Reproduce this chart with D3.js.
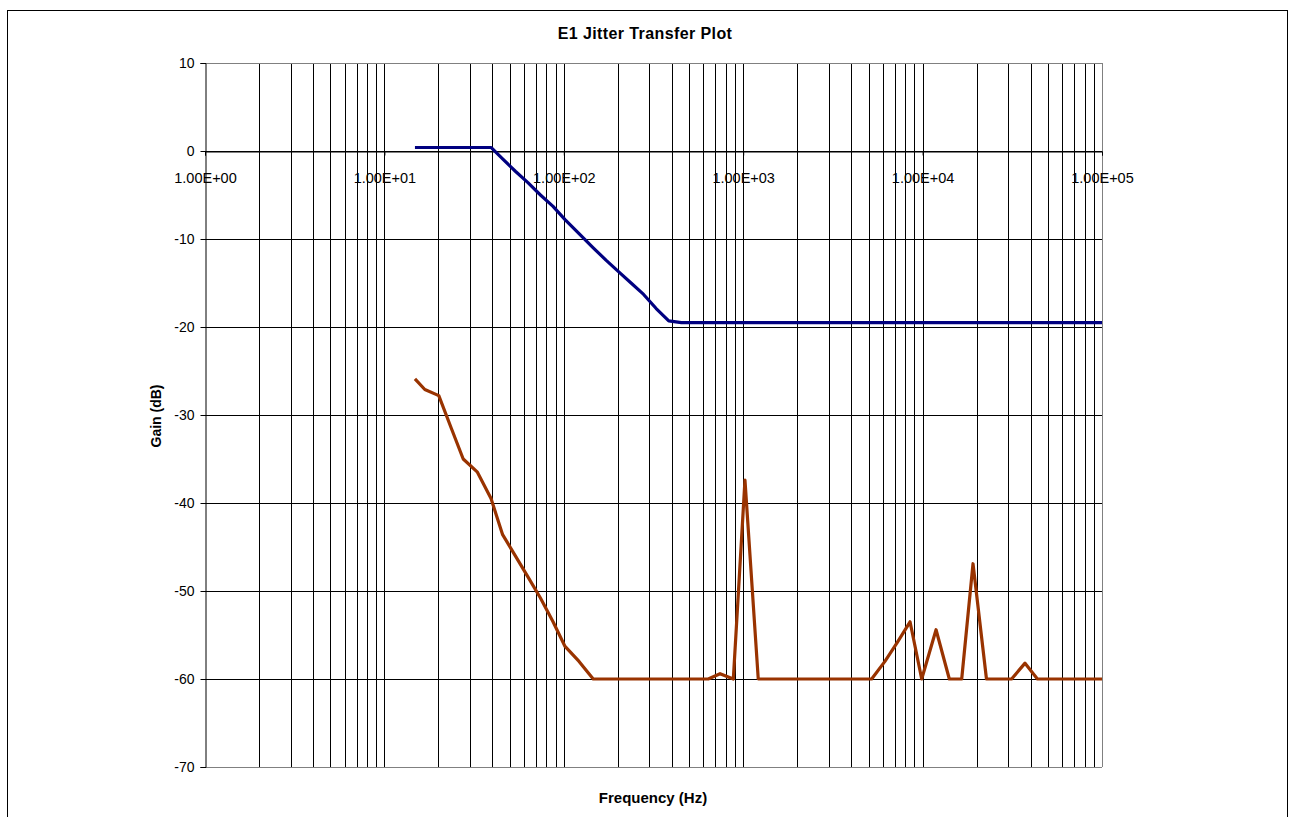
<!DOCTYPE html>
<html>
<head>
<meta charset="utf-8">
<script src="https://cdn.jsdelivr.net/npm/d3@7"></script>
<style>
  body { margin: 0; background: #fff; }
  svg { display: block; font-family: "Liberation Sans", Arial, sans-serif; }
</style>
</head>
<body>
<svg id="chart" width="1291" height="817"></svg>
<script>
// frequencies (Hz) of the measurement points
var freqs = [14.8, 16.8, 20.1, 23.6, 27.5, 33, 39.3, 45.6, 53.7, 63.1, 74.1, 87.1, 101.6, 121.6, 145.9,
  171.8, 201.8, 237.1, 278.6, 327.3, 384.6, 451.9, 543.3, 638.3, 743, 881, 1023, 1213, 1426, 1675,
  1968, 2317, 2723, 3199, 3758, 4426, 5200, 6166, 7244, 8511, 9886, 11885, 14093, 16520, 19099,
  22699, 26669, 31333, 37239, 43652, 51523, 60814, 71779, 84723, 100000];

// upper trace (dB)
var gainTop = [0.4, 0.4, 0.4, 0.4, 0.4, 0.4, 0.4, -0.9, -2.3, -3.6, -5.0, -6.3, -7.8, -9.4, -11.0,
  -12.4, -13.7, -15.0, -16.3, -17.9, -19.3, -19.5, -19.5, -19.5, -19.5, -19.5, -19.5, -19.5, -19.5, -19.5,
  -19.5, -19.5, -19.5, -19.5, -19.5, -19.5, -19.5, -19.5, -19.5, -19.5, -19.5, -19.5, -19.5, -19.5, -19.5,
  -19.5, -19.5, -19.5, -19.5, -19.5, -19.5, -19.5, -19.5, -19.5, -19.5];

// lower trace (dB)
var gainBottom = [-25.9, -27.1, -27.8, -31.5, -35.0, -36.5, -39.5, -43.6, -46.0, -48.4, -50.8, -53.5, -56.3, -58.0, -60,
  -60, -60, -60, -60, -60, -60, -60, -60, -60, -59.4, -60, -37.4, -60, -60, -60,
  -60, -60, -60, -60, -60, -60, -60, -58.0, -55.8, -53.5, -60, -54.4, -60, -60, -46.9,
  -60, -60, -60, -58.2, -60, -60, -60, -60, -60, -60];

var yTicks = [10, 0, -10, -20, -30, -40, -50, -60, -70];
var xDecades = [1, 10, 100, 1000, 10000, 100000];

var svg = d3.select("#chart");
var plotLeft = 205, plotRight = 1102, plotTop = 63, plotBottom = 767;

var x = d3.scaleLog().domain([1, 100000]).range([plotLeft, plotRight]);
var y = d3.scaleLinear().domain([-70, 10]).range([plotBottom, plotTop]);

// outer frame
svg.append("rect").attr("x", 7.5).attr("y", 10.5).attr("width", 1280).attr("height", 820)
  .attr("fill", "none").attr("stroke", "#000").attr("stroke-width", 1);

// minor/major vertical grid
var gridX = [];
xDecades.slice(0, -1).forEach(function(d){
  for (var k = 1; k <= 9; k++) gridX.push(d * k);
});
gridX.push(100000);

svg.append("g").selectAll("line").data(gridX.filter(function(d){ return d > 1; })).enter().append("line")
  .attr("x1", function(d){ return Math.round(x(d)) + 0.5; })
  .attr("x2", function(d){ return Math.round(x(d)) + 0.5; })
  .attr("y1", plotTop).attr("y2", plotBottom)
  .attr("stroke", function(d){ return d === 100000 ? "#808080" : "#000"; })
  .attr("stroke-width", 1);

// horizontal grid
svg.append("g").selectAll("line").data(yTicks).enter().append("line")
  .attr("x1", plotLeft).attr("x2", plotRight)
  .attr("y1", function(d){ return Math.round(y(d)) + 0.5; })
  .attr("y2", function(d){ return Math.round(y(d)) + 0.5; })
  .attr("stroke", function(d){ return (d === 10 || d === -70) ? "#808080" : "#000"; })
  .attr("stroke-width", 1);

// y axis
var yAxis = d3.axisLeft(y).tickValues(yTicks).tickSize(5).tickPadding(6)
  .tickFormat(function(d){ return String(d); });
var gy = svg.append("g").attr("transform", "translate(" + (plotLeft + 0.5) + ",0)").call(yAxis);
gy.select(".domain").attr("stroke", "#000");
gy.selectAll("text").attr("font-size", "14px").attr("fill", "#000")
  .style("font-family", "'Liberation Sans', Arial, sans-serif");

// x axis crossing at 0 dB
var xAxis = d3.axisBottom(x).tickValues(xDecades).tickSize(4).tickPadding(17)
  .tickFormat(function(d){ return "1.00E+" + String(Math.round(Math.log10(d))).padStart(2, "0"); });
var gx = svg.append("g").attr("transform", "translate(0," + (Math.round(y(0)) + 0.5) + ")").call(xAxis);
gx.select(".domain").attr("stroke", "#000");
gx.selectAll("text").attr("font-size", "14.5px").attr("fill", "#000")
  .style("font-family", "'Liberation Sans', Arial, sans-serif");

// traces
var line = d3.line()
  .x(function(d){ return x(d[0]); })
  .y(function(d){ return y(d[1]); });

svg.append("path").datum(d3.zip(freqs, gainBottom)).attr("d", line)
  .attr("fill", "none").attr("stroke", "#993300").attr("stroke-width", 3.2).attr("stroke-linejoin", "round");
svg.append("path").datum(d3.zip(freqs, gainTop)).attr("d", line)
  .attr("fill", "none").attr("stroke", "#000080").attr("stroke-width", 3.2).attr("stroke-linejoin", "round");

// titles
svg.append("text").attr("x", 645).attr("y", 39).attr("text-anchor", "middle")
  .attr("font-size", "16px").attr("font-weight", "bold").attr("letter-spacing", "0.4px")
  .text("E1 Jitter Transfer Plot");

svg.append("text").attr("x", 653).attr("y", 803).attr("text-anchor", "middle")
  .attr("font-size", "15px").attr("font-weight", "bold")
  .text("Frequency (Hz)");

svg.append("text").attr("transform", "translate(161,416) rotate(-90)").attr("text-anchor", "middle")
  .attr("font-size", "14px").attr("font-weight", "bold")
  .text("Gain (dB)");
</script>
</body>
</html>
